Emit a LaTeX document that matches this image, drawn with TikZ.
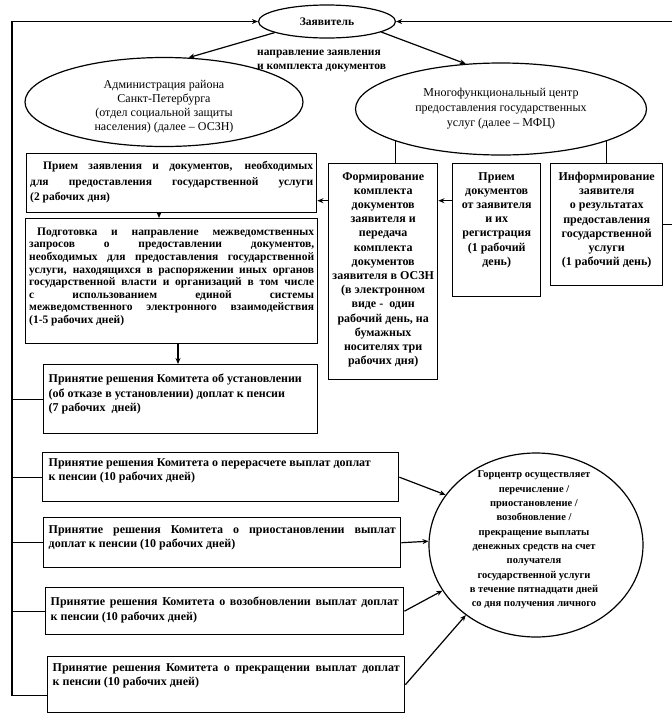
\documentclass[tikz,border=0pt]{standalone}
\usepackage{fontspec}
\setmainfont{Liberation Serif}
\usetikzlibrary{shapes.geometric,arrows.meta}
\hyphenpenalty=10000 \exhyphenpenalty=10000
\newcommand{\pbx}[5]{\parbox[c][#2pt][t]{#1pt}{\vspace*{#4pt}\leftskip=#3pt\rightskip=#3pt\relax #5\par}}
\newcommand{\cbx}[4]{\parbox[c][#2pt][t]{#1pt}{\vspace*{#3pt}\centering #4\par}}
\begin{document}
\begin{tikzpicture}[x=1pt,y=-1pt,
  bx/.style={draw, line width=1.4pt, inner sep=0pt, anchor=north west, font=\bfseries\fontsize{12}{14.5}\selectfont},
  ell/.style={draw, ellipse, line width=1.2pt, inner sep=0pt},
  con/.style={line width=1.2pt},
  arr/.style={con, -{Stealth[length=6pt,width=5pt]}}]
\useasboundingbox (0,0) rectangle (672,724);

% ellipses
\node[ell, minimum width=137pt, minimum height=33pt, font=\bfseries\fontsize{11.5}{14}\selectfont] (zayav) at (327,21.5) {Заявитель};
\node[ell, minimum width=278pt, minimum height=89pt] (oszn) at (164,102) {};
\node[align=center, font=\fontsize{12}{14}\selectfont, inner sep=0pt] (osznt) at (164,107) {Администрация района\\Санкт-Петербурга\\(отдел социальной защиты\\населения) (далее – ОСЗН)};
\node[ell, minimum width=291pt, minimum height=92pt, align=center, font=\fontsize{12}{15}\selectfont] (mfc) at (501,109) {Многофункциональный центр\\предоставления государственных\\услуг (далее – МФЦ)};
\node[align=left, anchor=west, font=\bfseries\fontsize{11.5}{14.5}\selectfont, inner sep=0pt] (lbl) at (257,61) {направление заявления\\и комплекта документов};

% left column
\node[bx, font=\bfseries\fontsize{11.5}{15.5}\selectfont] (b1) at (26,153) {\pbx{290}{59}{3.5}{8}{\hspace*{13pt}Прием заявления и документов, необходимых\linebreak для предоставления государственной услуги\linebreak (2 рабочих дня)}};
\node[bx, font=\bfseries\fontsize{11.5}{12.6}\selectfont] (b2) at (25,218) {\pbx{292}{125}{3.5}{9}{\hspace*{8pt}Подготовка и направление межведомственных\linebreak запросов о предоставлении документов,\linebreak необходимых для предоставления государственной\linebreak услуги, находящихся в распоряжении иных органов\linebreak государственной власти и организаций в том числе\linebreak с использованием единой системы\linebreak межведомственного электронного взаимодействия\linebreak (1-5 рабочих дней)}};

\node[bx] (d1) at (43,364) {\pbx{274}{69}{5}{9.5}{Принятие решения Комитета об установлении\\(об отказе в установлении) доплат к пенсии\\(7 рабочих~ дней)}};
\node[bx] (d2) at (42,452) {\pbx{356}{49}{6}{5.5}{Принятие решения Комитета о перерасчете выплат доплат\\к пенсии (10 рабочих дней)}};
\node[bx] (d3) at (43,517) {\pbx{357}{50}{5}{7.5}{Принятие решения Комитета о приостановлении выплат\linebreak доплат к пенсии (10 рабочих дней)}};
\node[bx] (d4) at (45,587) {\pbx{358}{47}{5}{9.5}{Принятие решения Комитета о возобновлении выплат доплат\linebreak к пенсии (10 рабочих дней)}};
\node[bx] (d5) at (47,656) {\pbx{357}{56}{5}{6.5}{Принятие решения Комитета о прекращении выплат доплат\linebreak к пенсии (10 рабочих дней)}};

% middle / right boxes
\node[bx, font=\bfseries\fontsize{12}{14.2}\selectfont] (form) at (328,163) {\cbx{109}{216}{8.5}{Формирование\\комплекта\\документов\\заявителя и\\передача\\комплекта\\документов\\заявителя в ОСЗН\\(в электронном\\виде - ~один\\рабочий день, на\\бумажных\\носителях три\\рабочих дня)}};
\node[bx, font=\bfseries\fontsize{12}{14.2}\selectfont] (priem) at (452,163) {\cbx{88}{133}{8.5}{Прием\\документов\\от заявителя\\и их\\регистрация\\(1 рабочий\\день)}};
\node[bx, font=\bfseries\fontsize{12}{14.2}\selectfont] (inform) at (550,163) {\cbx{112}{122}{8.5}{Информирование\\заявителя\\о результатах\\предоставления\\государственной\\услуги\\(1 рабочий день)}};

% circle
\node[ell, minimum width=214pt, minimum height=184pt] (gor) at (536,545) {};
\node[align=center, font=\bfseries\fontsize{10.5}{14.3}\selectfont, inner sep=0pt] (gort) at (534,540) {Горцентр осуществляет\\перечисление /\\приостановление /\\возобновление /\\прекращение выплаты\\денежных средств на счет\\получателя\\государственной услуги\\в течение пятнадцати дней\\со дня получения личного};

% connectors
\draw[arr] (zayav.192) -- (oszn.61);
\draw[arr] (zayav.349) -- (mfc.128);
\draw[con] (mfc.197) -- (mfc.197 |- form.north);
\draw[con] (mfc.343) -- (mfc.343 |- inform.north);
\coordinate (pa) at ([yshift=29.5pt]priem.west);
\draw[arr] (pa) -- (pa -| form.east);
\coordinate (fa) at (form.west |- pa);
\draw[arr] (fa) -- (fa -| b1.east);
\coordinate (ax1) at (159,0);
\draw[arr] (ax1 |- b1.south) -- (ax1 |- b2.north);
\coordinate (ax2) at (178,0);
\draw[arr] (ax2 |- b2.south) -- (ax2 |- d1.north);

\draw[arr] (d2.east) -- (gor.151);
\draw[arr] (d3.east) -- (gor.178);
\draw[arr] (d4.east) -- (gor.206);
\draw[arr] (d5.east) -- (gor.225);

\coordinate (lft) at (12,0);
\coordinate (d5b) at ([yshift=-11pt]d5.west);
\draw[arr] (d5b) -| (lft |- zayav.west) -- (zayav.west);
\foreach \n in {d1,d2,d3,d4} \draw[con] (\n.west) -- (\n.west -| lft);

\coordinate (rgt) at (674,0);
\draw[arr] (inform.east) -| (rgt |- zayav.east) -- (zayav.east);
\end{tikzpicture}
\end{document}
